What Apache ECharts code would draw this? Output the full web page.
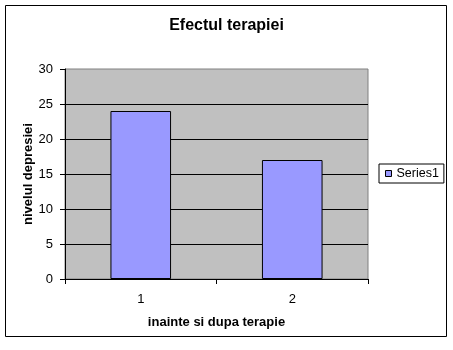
<!DOCTYPE html>
<html><head><meta charset="utf-8">
<script src="https://cdn.jsdelivr.net/npm/echarts@6/dist/echarts.min.js"></script>
<style>html,body{margin:0;padding:0;background:#fff}#c{width:453px;height:350px}</style>
</head><body><div id="c"></div>
<script>
const titleText = 'Efectul terapiei';
const categories = ['1', '2'];
const seriesName = 'Series1';
const values = [24, 17];
const yTicks = { min: 0, max: 30, interval: 5 };
const xAxisName = 'inainte si dupa terapie';
const yAxisName = 'nivelul depresiei';

const FONT = 'Liberation Sans, Arial, sans-serif';
const chart = echarts.init(document.getElementById('c'), null, { renderer: 'canvas' });
chart.setOption({
  animation: false,
  backgroundColor: '#ffffff',
  title: {
    text: titleText, left: 'center', top: 18, padding: 0,
    textStyle: { fontFamily: FONT, fontSize: 16, fontWeight: 'bold', color: '#000' }
  },
  graphic: [{
    type: 'rect', shape: { x: 5.5, y: 5.5, width: 441, height: 331 },
    style: { fill: 'none', stroke: '#000', lineWidth: 1 }, z: 100
  }],
  legend: {
    data: [seriesName], left: 379, top: 164, orient: 'vertical',
    padding: [3, 5, 3, 6], itemWidth: 6, itemHeight: 6, itemGap: 0,
    borderColor: '#000', borderWidth: 1, backgroundColor: '#fff',
    icon: 'rect',
    itemStyle: { borderColor: '#000', borderWidth: 1 },
    textStyle: { fontFamily: FONT, fontSize: 12.5, color: '#000', padding: [0, 0, 0, 0] }
  },
  grid: {
    left: 65, top: 69, width: 303, height: 210, show: true,
    backgroundColor: '#C0C0C0', borderColor: '#808080', borderWidth: 1
  },
  xAxis: {
    type: 'category', data: categories, boundaryGap: true,
    name: xAxisName, nameLocation: 'middle', nameGap: 37, nameMoveOverlap: false,
    nameTextStyle: { fontFamily: FONT, fontSize: 13, fontWeight: 'bold', color: '#000' },
    axisLine: { show: true, lineStyle: { color: '#000', width: 1 } },
    axisTick: { show: true, length: 5, interval: 0, alignWithLabel: false, lineStyle: { color: '#000' } },
    axisLabel: { fontFamily: FONT, fontSize: 13, color: '#000', margin: 14 },
    splitLine: { show: false }
  },
  yAxis: {
    type: 'value', min: yTicks.min, max: yTicks.max, interval: yTicks.interval,
    name: yAxisName, nameLocation: 'middle', nameGap: 30, nameRotate: 90, nameMoveOverlap: false,
    nameTextStyle: { fontFamily: FONT, fontSize: 13, fontWeight: 'bold', color: '#000' },
    axisLine: { show: true, lineStyle: { color: '#000', width: 1 } },
    axisTick: { show: true, length: 5, lineStyle: { color: '#000' } },
    axisLabel: { fontFamily: FONT, fontSize: 13, color: '#000', margin: 12 },
    splitLine: { show: true, showMaxLine: false, showMinLine: false, lineStyle: { color: '#000', width: 1 } }
  },
  series: [{
    type: 'bar', name: seriesName, data: values, barCategoryGap: '60%',
    itemStyle: { color: '#9999FF', borderColor: '#000', borderWidth: 1 }
  }]
});
</script></body></html>
